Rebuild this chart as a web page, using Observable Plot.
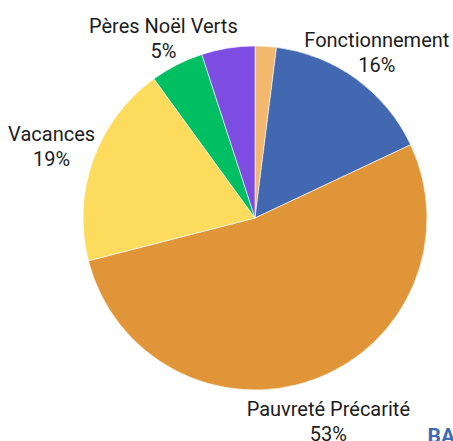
<!DOCTYPE html>
<html><head><meta charset="utf-8">
<script src="https://cdn.jsdelivr.net/npm/d3@7"></script>
<script src="https://cdn.jsdelivr.net/npm/@observablehq/plot@0.6"></script>
<style>
html,body{margin:0;padding:0;background:#fff;overflow:hidden}
</style>
</head><body><div id="chart"></div>
<script>
const categories = ["Autres", "Fonctionnement", "Pauvreté Précarité", "Vacances", "Pères Noël Verts", "Divers"];
const values = [2, 16, 53, 19, 5, 5];
const showLabel = [false, true, true, true, true, false];
const colors = ["#f2b86e", "#4268b2", "#e09638", "#fddc5d", "#00bf62", "#7d4ce0"];

const W = 453, H = 441;
const cx = 255, cy = 218, R = 172;
// layout: label distance from centre, as a multiple of the radius
const labelDist = {"Fonctionnement": 1.2, "Pauvreté Précarité": 1.25, "Vacances": 1.26, "Pères Noël Verts": 1.18};

const data = categories.map((c, i) => ({category: c, value: values[i], color: colors[i], label: showLabel[i]}));
const arcs = d3.pie().sort(null).value(d => d.value)(data);

const labels = arcs.filter(a => a.data.label).map(a => {
  const t = (a.startAngle + a.endAngle) / 2;
  const rr = (labelDist[a.data.category] || 1.22) * R;
  return {x: cx + rr * Math.sin(t), y: cy - rr * Math.cos(t),
          text: a.data.category + "\n" + a.data.value + "%"};
});

const pie = (index, scales, values, dims, context) => {
  const g = d3.create("svg:g");
  const arc = d3.arc().innerRadius(0).outerRadius(R);
  g.selectAll("path").data(arcs).join("path")
    .attr("transform", `translate(${scales.x(cx)},${scales.y(cy)})`)
    .attr("d", arc)
    .attr("fill", d => d.data.color)
    .attr("stroke", "#ffffff")
    .attr("stroke-width", 0.6);
  return g.node();
};

const chart = Plot.plot({
  width: W, height: H, margin: 0,
  x: {domain: [0, W], range: [0, W], axis: null},
  y: {domain: [0, H], range: [0, H], axis: null},
  style: {fontFamily: "Roboto, sans-serif", background: "#fff"},
  marks: [
    pie,
    Plot.text(labels, {x: "x", y: "y", text: "text", fontSize: 20, lineHeight: 1.25, fill: "#1c1c1c", fontWeight: 400}),
    Plot.text([{x: 427, y: 428, t: "BANQUE"}], {x: "x", y: "y", text: "t", textAnchor: "start", fontSize: 21, fontWeight: 700, fill: "#3f6bb6", lineAnchor: "top"})
  ]
});
document.getElementById("chart").appendChild(chart);
</script>
</body></html>
